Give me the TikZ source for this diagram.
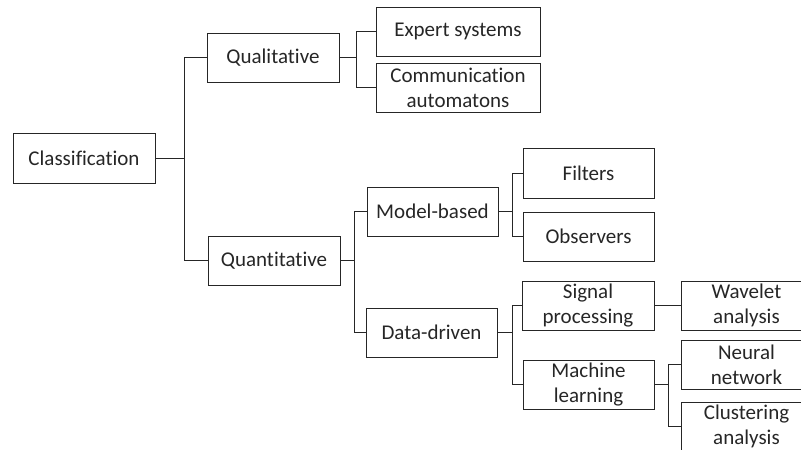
\documentclass[tikz,border=0pt]{standalone}
\usepackage{fontspec}
\setmainfont{Carlito}[Ligatures=CommonOff]
\usepackage{tikz}

\begin{document}
\begin{tikzpicture}[x=1pt, y=-1pt,
    box/.style={draw=black!85, line width=1pt, rectangle, align=center, inner sep=0pt,
        text=black!85, font=\fontsize{21}{25}\selectfont, minimum height=49pt},
    link/.style={draw=black!85, line width=1pt}]
    \useasboundingbox (0, 0) rectangle (801, 450);
    \clip (0, 0) rectangle (801, 450);

    \node[box, minimum width=142pt, minimum height=50pt] at (84, 158) (cls) {Classification};
    \node[box, minimum width=132pt] at (273, 57.5) (qual) {Qualitative};
    \node[box, minimum width=132pt] at (274, 260.5) (quant) {Quantitative};
    \node[box, minimum width=164pt] at (458, 31.5) (expert) {Expert systems};
    \node[box, minimum width=164pt] at (458, 87.5) (comm) {Communication\\automatons};
    \node[box, minimum width=131pt] at (432.5, 211.5) (model) {Model-based};
    \node[box, minimum width=131pt] at (431.5, 332.5) (data) {Data-driven};
    \node[box, minimum width=131pt, minimum height=50pt] at (588.5, 173) (filters) {Filters};
    \node[box, minimum width=131pt] at (588.5, 236.5) (obs) {Observers};
    \node[box, minimum width=132pt] at (588, 305.5) (signal) {Signal\\processing};
    \node[box, minimum width=131pt] at (588.5, 384.5) (machine) {Machine\\learning};
    \node[box, minimum width=131pt] at (746.5, 305.5) (wavelet) {Wavelet\\analysis};
    \node[box, minimum width=131pt] at (746.5, 364.5) (neural) {Neural\\network};
    \node[box, minimum width=131pt] at (746.5, 426.5) (cluster) {Clustering\\analysis};

    \draw[link] (cls.east) -- ++(29, 0) |- (qual.west);
    \draw[link] (cls.east) -- ++(29, 0) |- (quant.west);
    \draw[link] (qual.east) -- ++(17, 0) |- (expert.west);
    \draw[link] (qual.east) -- ++(17, 0) |- (comm.west);
    \draw[link] (quant.east) -- ++(14, 0) |- (model.west);
    \draw[link] (quant.east) -- ++(14, 0) |- (data.west);
    \draw[link] (model.east) -- ++(14, 0) |- (filters.west);
    \draw[link] (model.east) -- ++(14, 0) |- (obs.west);
    \draw[link] (data.east) -- ++(15, 0) |- (signal.west);
    \draw[link] (data.east) -- ++(15, 0) |- (machine.west);
    \draw[link] (signal.east) -- (wavelet.west);
    \draw[link] (machine.east) -- ++(14, 0) |- (neural.west);
    \draw[link] (machine.east) -- ++(14, 0) |- (cluster.west);
\end{tikzpicture}
\end{document}
